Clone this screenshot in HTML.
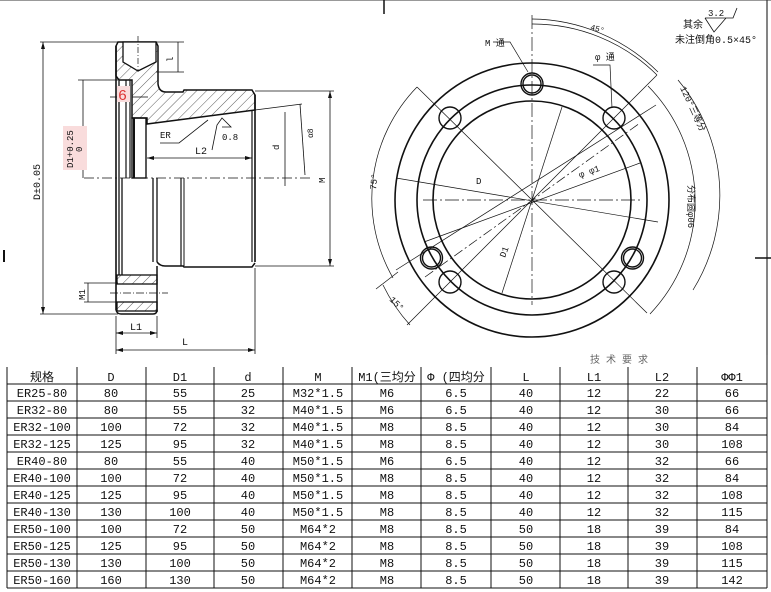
<!DOCTYPE html>
<html><head><meta charset="utf-8"><style>
html,body{margin:0;padding:0;background:#fff;}
svg{display:block;}
text{font-family:"Liberation Mono","Noto Sans CJK SC",monospace;fill:#111;}
</style></head><body>
<svg width="771" height="592" viewBox="0 0 771 592" xmlns="http://www.w3.org/2000/svg">
<defs>
<pattern id="h" width="7" height="7" patternUnits="userSpaceOnUse" patternTransform="rotate(45)">
<line x1="0" y1="0" x2="0" y2="7" stroke="#333" stroke-width="0.8"/>
</pattern>
</defs>
<rect width="771" height="592" fill="#fff"/>
<line x1="0" y1="0.5" x2="771" y2="0.5" stroke="#999"/>
<line x1="767" y1="0" x2="767" y2="355" stroke="#333" stroke-width="1.2"/>
<line x1="384" y1="0" x2="384" y2="14" stroke="#111" stroke-width="1.5"/>
<line x1="4" y1="250" x2="4" y2="262" stroke="#111" stroke-width="2"/>
<line x1="755" y1="258" x2="771" y2="258" stroke="#111" stroke-width="1.5"/>

<!-- LEFT VIEW -->
<g fill="none" stroke="#111" stroke-width="1">
<!-- hatched section top -->
<path d="M118,42 L156,42 L158,46 L158,84 Q159,92 166,92 L183,92 L184,90 L252,90 L255,95 L255,110 L147,124 L147,118 L132,118 L132,80 L119,80 L116,76 L116,46 Z" fill="url(#h)" stroke-width="1.5"/>
<path d="M123,42 L156,42 L156,62 L138,71 L123,62 Z" fill="#fff" stroke-width="1.3"/>
<line x1="138" y1="36" x2="138" y2="71" stroke-dasharray="6,2,1,2" stroke-width="0.7"/>
<!-- flange outer -->
<line x1="116" y1="46" x2="116" y2="310" stroke-width="1.6"/>
<line x1="119" y1="80" x2="119" y2="275" stroke-width="1.3"/>
<line x1="126" y1="80" x2="126" y2="178" stroke-width="1.2"/>
<line x1="130" y1="80" x2="130" y2="178" stroke-width="1.2"/>
<line x1="122" y1="178" x2="122" y2="275" stroke-width="1.3"/>
<rect x="132" y="118" width="14" height="60" stroke-width="1.4"/>
<line x1="134" y1="118" x2="134" y2="178" stroke-width="2"/>
<line x1="255" y1="95" x2="255" y2="262" stroke-width="1.6"/>
<line x1="252" y1="110" x2="252" y2="262" stroke-width="1.2"/>
<!-- bottom half -->
<line x1="153" y1="178" x2="153" y2="262" stroke-width="1.3"/>
<line x1="157" y1="178" x2="157" y2="262" stroke-width="1.3"/>
<path d="M157,262 Q160,266 165,266 L183,266 L184,267 L252,267 L255,263" stroke-width="1.5"/>
<line x1="181" y1="178" x2="181" y2="266" stroke-width="1.2"/>
<line x1="184" y1="178" x2="184" y2="266" stroke-width="1"/>
<line x1="116" y1="275" x2="157" y2="275"/>
<rect x="117" y="275" width="40" height="9" fill="url(#h)" stroke-width="1.3"/>
<rect x="117" y="302" width="40" height="9" fill="url(#h)" stroke-width="1.3"/>
<line x1="157" y1="266" x2="157" y2="312" stroke-width="1.5"/>
<path d="M116,310 Q117,314 121,314 L153,314 Q157,314 157,310" stroke-width="1.5"/>
<line x1="110" y1="293" x2="168" y2="293" stroke-dasharray="8,2,1,2" stroke-width="0.7"/>
<!-- centerline -->
<line x1="84" y1="178" x2="310" y2="178" stroke-dasharray="10,3,2,3" stroke-width="0.8"/>
<!-- dims -->
<g stroke-width="0.8">
<line x1="40" y1="42" x2="118" y2="42"/><line x1="40" y1="314" x2="118" y2="314"/>
<line x1="43" y1="42" x2="43" y2="314"/>
<line x1="78" y1="80" x2="118" y2="80"/><line x1="83" y1="80" x2="83" y2="178"/>
<line x1="156" y1="42" x2="184" y2="42"/><line x1="156" y1="72" x2="184" y2="72"/><line x1="178" y1="42" x2="178" y2="72"/>
<line x1="255" y1="91" x2="334" y2="91"/><line x1="255" y1="266" x2="334" y2="266"/><line x1="330" y1="91" x2="330" y2="266"/>
<line x1="285" y1="112" x2="285" y2="186"/>
<line x1="255" y1="110" x2="302" y2="104"/><line x1="300" y1="104" x2="305" y2="175"/>
<line x1="147" y1="158" x2="252" y2="158"/>
<line x1="116" y1="316" x2="116" y2="354"/><line x1="157" y1="316" x2="157" y2="338"/><line x1="255" y1="268" x2="255" y2="354"/>
<line x1="116" y1="333" x2="157" y2="333"/><line x1="116" y1="350" x2="255" y2="350"/>
<line x1="84" y1="283" x2="118" y2="283"/><line x1="84" y1="302" x2="118" y2="302"/><line x1="88" y1="283" x2="88" y2="302"/>
<line x1="110" y1="97" x2="117" y2="97"/><line x1="132" y1="97" x2="148" y2="97"/>
<path d="M160,143 L179,143 L208,120"/>
<path d="M212,150 L217,125 L222,118 L231,127 L222,127"/>
</g>
<g fill="#111" stroke="none">
<path d="M43,42 l-2,7 h4z"/><path d="M43,314 l-2,-7 h4z"/>
<path d="M330,91 l-2,7 h4z"/><path d="M330,266 l-2,-7 h4z"/>
<path d="M116,350 l7,-2 v4z"/><path d="M255,350 l-7,-2 v4z"/>
<path d="M116,333 l7,-2 v4z"/><path d="M157,333 l-7,-2 v4z"/>
<path d="M147,158 l7,-2 v4z"/><path d="M252,158 l-7,-2 v4z"/>
</g>
</g>
<rect x="63" y="126" width="24" height="44" fill="#f9dcdc"/>
<text transform="translate(73,168) rotate(-90)" font-size="9" fill="#d44">D1+0.25</text>
<text transform="translate(82,152) rotate(-90)" font-size="9" fill="#d44">0</text>
<rect x="117" y="86" width="13" height="16" fill="#f9dcdc"/>
<text x="118" y="100" font-size="15" font-family="Liberation Serif" style="fill:#d33">6</text>
<text transform="translate(40,200) rotate(-90)" font-size="10">D±0.05</text>
<text transform="translate(173,62) rotate(-90)" font-size="9">l</text>
<text x="160" y="138" font-size="9">ER</text>
<text x="195" y="154" font-size="10">L2</text>
<text x="222" y="140" font-size="9">0.8</text>
<text transform="translate(279,150) rotate(-90)" font-size="9">d</text>
<text transform="translate(313,138) rotate(-90)" font-size="8">α8</text>
<text transform="translate(325,183) rotate(-90)" font-size="9">M</text>
<text transform="translate(85,300) rotate(-90)" font-size="9">M1</text>
<text x="130" y="330" font-size="10">L1</text>
<text x="182" y="345" font-size="10">L</text>

<!-- RIGHT VIEW -->
<g fill="none" stroke="#111">
<circle cx="532" cy="200" r="137" stroke-width="1.6"/>
<circle cx="532" cy="200" r="115" stroke-width="1.6"/>
<circle cx="532" cy="200" r="99" stroke-width="1.6"/>
<g stroke-width="1.4">
<circle cx="532" cy="84" r="11"/><circle cx="532" cy="84" r="9"/>
<circle cx="431.5" cy="258" r="11"/><circle cx="431.5" cy="258" r="9"/>
<circle cx="632.5" cy="258" r="11"/><circle cx="632.5" cy="258" r="9"/>
<circle cx="450" cy="118" r="11"/><circle cx="614" cy="118" r="11"/>
<circle cx="450" cy="282" r="11"/><circle cx="614" cy="282" r="11"/>
</g>
<g stroke-width="0.7">
<line x1="532" y1="15" x2="532" y2="305" stroke-dasharray="14,3,2,3"/>
<line x1="423" y1="200" x2="640" y2="200" stroke-dasharray="14,3,2,3"/>
<line x1="417" y1="87" x2="647" y2="313"/>
<line x1="657" y1="75" x2="407" y2="325"/>
<line x1="425" y1="277" x2="640" y2="123" stroke-dasharray="10,3,2,3"/>
<line x1="396" y1="178" x2="658" y2="222"/>
<line x1="424" y1="242" x2="640" y2="163"/>
<line x1="562" y1="107" x2="502" y2="293"/>
<line x1="396" y1="270" x2="656" y2="105"/>
<path d="M532,24 A176,176 0 0 1 657,75"/>
<path d="M532,19 A181,181 0 0 1 658,72"/>
<path d="M648,86 A164,164 0 0 1 650,314"/>
<path d="M678,80 A180,180 0 0 1 693,290"/>
<path d="M417,87 A160,160 0 0 0 393,278"/>
<path d="M383,285 A170,170 0 0 0 410,325"/>
<line x1="376" y1="289" x2="398" y2="272"/>
<path d="M493,42 L510,42 L528,72"/>
<path d="M593,65 L610,65 L612,108"/>
</g>
</g>
<text x="485" y="46" font-size="9">M 通</text>
<text x="595" y="60" font-size="9">φ 通</text>
<text x="590" y="32" font-size="8" transform="rotate(15,600,30)">45°</text>
<text x="680" y="88" font-size="9" transform="rotate(65,680,88)">120°三等分</text>
<text x="688" y="185" font-size="9" transform="rotate(90,688,185)">分布圆φ06</text>
<text x="580" y="178" font-size="9" transform="rotate(-20,580,178)">φ φ1</text>
<text x="476" y="184" font-size="9">D</text>
<text x="505" y="258" font-size="9" transform="rotate(-70,505,258)">D1</text>
<text x="376" y="190" font-size="9" transform="rotate(-85,376,190)">75°</text>
<text x="389" y="300" font-size="9" transform="rotate(45,389,300)">15°</text>
<text x="683" y="28" font-size="10" font-family="Noto Sans CJK SC,sans-serif">其余</text>
<text x="675" y="43" font-size="10">未注倒角0.5×45°</text>
<text x="708" y="16" font-size="9">3.2</text>
<path d="M705,18 L733,18 L737,8 M705,18 L714,32 L726,18" fill="none" stroke="#111" stroke-width="0.8"/>
<text x="590" y="363" font-size="10" style="fill:#666">技 术 要 求</text>

<!-- TABLE -->
<g stroke="#111" stroke-width="1">
<line x1="7" y1="367" x2="7" y2="588"/><line x1="77" y1="367" x2="77" y2="588"/>
<line x1="146" y1="367" x2="146" y2="588"/><line x1="214" y1="367" x2="214" y2="588"/>
<line x1="283" y1="367" x2="283" y2="588"/><line x1="352" y1="367" x2="352" y2="588"/>
<line x1="421" y1="367" x2="421" y2="588"/><line x1="491" y1="367" x2="491" y2="588"/>
<line x1="560" y1="367" x2="560" y2="588"/><line x1="628" y1="367" x2="628" y2="588"/>
<line x1="697" y1="367" x2="697" y2="588"/><line x1="767" y1="355" x2="767" y2="588"/>
<line x1="7" y1="384" x2="767" y2="384"/><line x1="7" y1="401" x2="767" y2="401"/>
<line x1="7" y1="418" x2="767" y2="418"/><line x1="7" y1="435" x2="767" y2="435"/>
<line x1="7" y1="452" x2="767" y2="452"/><line x1="7" y1="469" x2="767" y2="469"/>
<line x1="7" y1="486" x2="767" y2="486"/><line x1="7" y1="503" x2="767" y2="503"/>
<line x1="7" y1="520" x2="767" y2="520"/><line x1="7" y1="537" x2="767" y2="537"/>
<line x1="7" y1="554" x2="767" y2="554"/><line x1="7" y1="571" x2="767" y2="571"/>
<line x1="7" y1="588" x2="767" y2="588"/>
</g>
<g font-size="12" text-anchor="middle">
<text x="42" y="381" font-family="Noto Sans CJK SC,sans-serif">规格</text><text x="111" y="381">D</text><text x="180" y="381">D1</text><text x="248" y="381">d</text><text x="318" y="381">M</text>
<text x="387" y="381" font-family="Liberation Mono,Noto Sans CJK SC,monospace">M1(三均分</text><text x="456" y="381" font-family="Liberation Mono,Noto Sans CJK SC,monospace">Φ (四均分</text>
<text x="526" y="381">L</text><text x="594" y="381">L1</text><text x="662" y="381">L2</text><text x="732" y="381">ΦΦ1</text>
</g>
<g font-size="12" text-anchor="middle">
<text y="397"><tspan x="42">ER25-80</tspan><tspan x="111">80</tspan><tspan x="180">55</tspan><tspan x="248">25</tspan><tspan x="318">M32*1.5</tspan><tspan x="387">M6</tspan><tspan x="456">6.5</tspan><tspan x="526">40</tspan><tspan x="594">12</tspan><tspan x="662">22</tspan><tspan x="732">66</tspan></text>
<text y="414"><tspan x="42">ER32-80</tspan><tspan x="111">80</tspan><tspan x="180">55</tspan><tspan x="248">32</tspan><tspan x="318">M40*1.5</tspan><tspan x="387">M6</tspan><tspan x="456">6.5</tspan><tspan x="526">40</tspan><tspan x="594">12</tspan><tspan x="662">30</tspan><tspan x="732">66</tspan></text>
<text y="431"><tspan x="42">ER32-100</tspan><tspan x="111">100</tspan><tspan x="180">72</tspan><tspan x="248">32</tspan><tspan x="318">M40*1.5</tspan><tspan x="387">M8</tspan><tspan x="456">8.5</tspan><tspan x="526">40</tspan><tspan x="594">12</tspan><tspan x="662">30</tspan><tspan x="732">84</tspan></text>
<text y="448"><tspan x="42">ER32-125</tspan><tspan x="111">125</tspan><tspan x="180">95</tspan><tspan x="248">32</tspan><tspan x="318">M40*1.5</tspan><tspan x="387">M8</tspan><tspan x="456">8.5</tspan><tspan x="526">40</tspan><tspan x="594">12</tspan><tspan x="662">30</tspan><tspan x="732">108</tspan></text>
<text y="465"><tspan x="42">ER40-80</tspan><tspan x="111">80</tspan><tspan x="180">55</tspan><tspan x="248">40</tspan><tspan x="318">M50*1.5</tspan><tspan x="387">M6</tspan><tspan x="456">6.5</tspan><tspan x="526">40</tspan><tspan x="594">12</tspan><tspan x="662">32</tspan><tspan x="732">66</tspan></text>
<text y="482"><tspan x="42">ER40-100</tspan><tspan x="111">100</tspan><tspan x="180">72</tspan><tspan x="248">40</tspan><tspan x="318">M50*1.5</tspan><tspan x="387">M8</tspan><tspan x="456">8.5</tspan><tspan x="526">40</tspan><tspan x="594">12</tspan><tspan x="662">32</tspan><tspan x="732">84</tspan></text>
<text y="499"><tspan x="42">ER40-125</tspan><tspan x="111">125</tspan><tspan x="180">95</tspan><tspan x="248">40</tspan><tspan x="318">M50*1.5</tspan><tspan x="387">M8</tspan><tspan x="456">8.5</tspan><tspan x="526">40</tspan><tspan x="594">12</tspan><tspan x="662">32</tspan><tspan x="732">108</tspan></text>
<text y="516"><tspan x="42">ER40-130</tspan><tspan x="111">130</tspan><tspan x="180">100</tspan><tspan x="248">40</tspan><tspan x="318">M50*1.5</tspan><tspan x="387">M8</tspan><tspan x="456">8.5</tspan><tspan x="526">40</tspan><tspan x="594">12</tspan><tspan x="662">32</tspan><tspan x="732">115</tspan></text>
<text y="533"><tspan x="42">ER50-100</tspan><tspan x="111">100</tspan><tspan x="180">72</tspan><tspan x="248">50</tspan><tspan x="318">M64*2</tspan><tspan x="387">M8</tspan><tspan x="456">8.5</tspan><tspan x="526">50</tspan><tspan x="594">18</tspan><tspan x="662">39</tspan><tspan x="732">84</tspan></text>
<text y="550"><tspan x="42">ER50-125</tspan><tspan x="111">125</tspan><tspan x="180">95</tspan><tspan x="248">50</tspan><tspan x="318">M64*2</tspan><tspan x="387">M8</tspan><tspan x="456">8.5</tspan><tspan x="526">50</tspan><tspan x="594">18</tspan><tspan x="662">39</tspan><tspan x="732">108</tspan></text>
<text y="567"><tspan x="42">ER50-130</tspan><tspan x="111">130</tspan><tspan x="180">100</tspan><tspan x="248">50</tspan><tspan x="318">M64*2</tspan><tspan x="387">M8</tspan><tspan x="456">8.5</tspan><tspan x="526">50</tspan><tspan x="594">18</tspan><tspan x="662">39</tspan><tspan x="732">115</tspan></text>
<text y="584"><tspan x="42">ER50-160</tspan><tspan x="111">160</tspan><tspan x="180">130</tspan><tspan x="248">50</tspan><tspan x="318">M64*2</tspan><tspan x="387">M8</tspan><tspan x="456">8.5</tspan><tspan x="526">50</tspan><tspan x="594">18</tspan><tspan x="662">39</tspan><tspan x="732">142</tspan></text>
</g>
</svg>
</body></html>
